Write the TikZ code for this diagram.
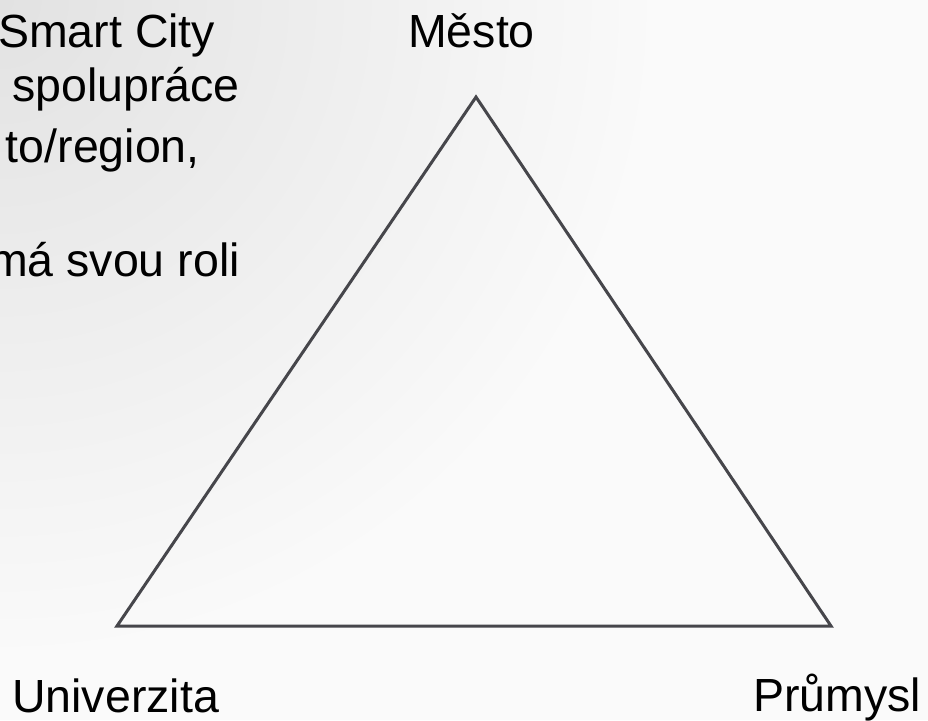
\documentclass[tikz,border=0pt]{standalone}
\usepackage{fontspec}
\setmainfont{Liberation Sans}
\definecolor{bgcol}{HTML}{FAFAFA}
\definecolor{bgdark}{HTML}{E2E2E2}
\definecolor{linecol}{HTML}{46464B}
\begin{document}
\begin{tikzpicture}[x=1pt,y=1pt,
  lbl/.style={inner sep=0pt, font=\fontsize{46.5}{56}\selectfont, text=black},
  edge/.style={draw=linecol, line width=3pt, line join=miter}]
\useasboundingbox (0,0) rectangle (928,720);
\clip (0,0) rectangle (928,720);
\fill[bgcol] (0,0) rectangle (928,720);
\shade[inner color=bgdark, outer color=bgcol] (0,720) circle (660);
% left text (cut off at left edge)
\node[lbl, anchor=base west] (t1) at (-2,672) {Smart City};
\node[lbl, anchor=base west] (t2) at (12,618) {spolupráce};
\node[lbl, anchor=base east] (t3) at (200,557) {to/region,};
\node[lbl, anchor=base east] (t4) at (240,443) {má svou roli};
% triangle corners
\coordinate (A) at (476,623);
\coordinate (B) at (117,94);
\coordinate (C) at (831,94);
\draw[edge] (A) -- (B) -- (C) -- cycle;
% labels
\node[lbl, anchor=base] (mesto) at (471.5,672) {Město};
\node[lbl, anchor=base west] (univ) at (12,8) {Univerzita};
\node[lbl, anchor=base west] (prum) at (753,9) {Průmysl};
\end{tikzpicture}
\end{document}
